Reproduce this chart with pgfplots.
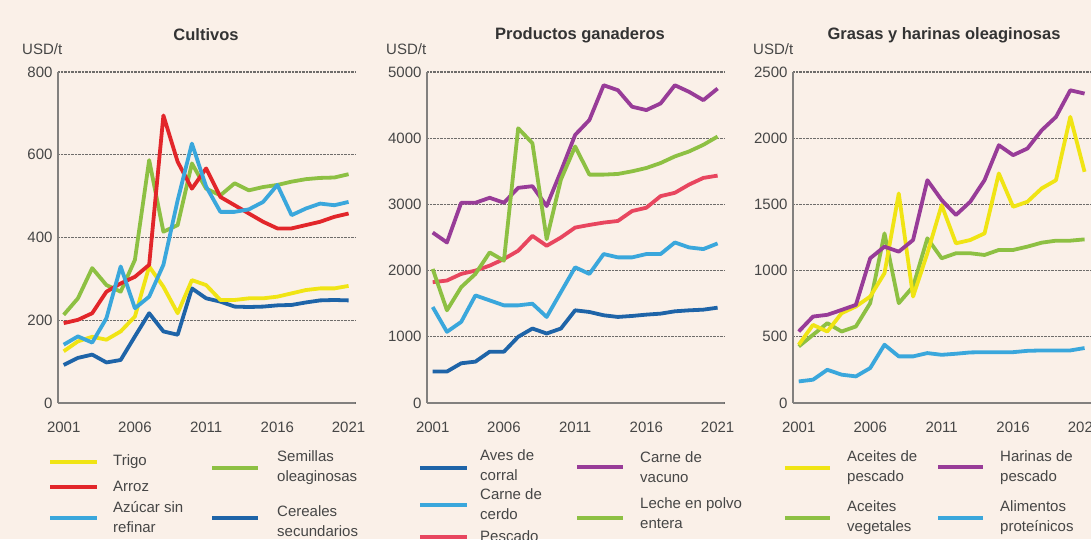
\documentclass[border=0pt]{standalone}
\usepackage{pgfplots}
\pgfplotsset{compat=1.18}
\usepackage{pgfplotstable}
\usepackage{fontspec}
\setmainfont{Liberation Sans}

\definecolor{bg}{RGB}{250,240,232}
\definecolor{cyel}{RGB}{240,228,20}
\definecolor{cred}{RGB}{226,38,42}
\definecolor{ccyan}{RGB}{58,167,220}
\definecolor{cgreen}{RGB}{141,192,67}
\definecolor{cdblue}{RGB}{30,100,168}
\definecolor{cpurple}{RGB}{152,60,152}
\definecolor{cpink}{RGB}{232,70,95}
\definecolor{axisgray}{RGB}{130,128,126}
\definecolor{gridgray}{RGB}{110,108,106}
\definecolor{txtgray}{RGB}{70,70,70}

\pgfplotstableread{
year trigo arroz azucar semillas cereales
2001 125 193 141 213 92
2002 149 201 161 253 109
2003 160 217 146 326 117
2004 153 269 205 285 98
2005 173 289 330 269 104
2006 209 305 229 346 161
2007 330 334 257 587 217
2008 281 695 334 414 173
2009 217 583 490 430 165
2010 297 518 627 579 277
2011 285 567 523 518 253
2012 249 498 462 502 245
2013 249 478 462 531 233
2014 253 458 468 514 232
2015 253 438 486 522 233
2016 257 422 527 527 236
2017 265 422 454 535 237
2018 273 430 470 541 243
2019 277 438 482 544 248
2020 277 450 478 545 249
2021 283 458 486 553 248
}\cultivos

\pgfplotstableread{
year aves cerdo pescado vacuno leche
2001 475 1450 1825 2575 2025
2002 475 1075 1850 2425 1400
2003 600 1225 1950 3025 1750
2004 625 1625 2000 3025 1950
2005 775 1550 2075 3100 2275
2006 775 1475 2175 3025 2150
2007 1000 1475 2300 3250 4150
2008 1125 1500 2525 3275 3925
2009 1050 1300 2375 2975 2475
2010 1125 1675 2500 3500 3375
2011 1400 2050 2650 4050 3875
2012 1375 1950 2690 4275 3450
2013 1325 2250 2725 4800 3450
2014 1300 2200 2750 4725 3460
2015 1315 2200 2900 4475 3500
2016 1335 2250 2950 4425 3550
2017 1350 2250 3125 4525 3625
2018 1385 2425 3175 4800 3725
2019 1400 2350 3300 4700 3800
2020 1410 2325 3400 4575 3900
2021 1440 2410 3435 4750 4025
}\ganaderos

\pgfplotstableread{
year aceitesp harinas aceitesv alimentos
2001 440 540 427 163
2002 590 653 515 176
2003 540 666 603 251
2004 678 703 540 214
2005 729 741 578 201
2006 804 1093 754 264
2007 980 1181 1281 440
2008 1583 1143 754 352
2009 804 1231 879 352
2010 1131 1683 1244 377
2011 1495 1533 1093 364
2012 1206 1420 1131 372
2013 1231 1520 1131 382
2014 1281 1683 1118 384
2015 1734 1947 1156 384
2016 1482 1872 1156 384
2017 1520 1922 1181 394
2018 1621 2060 1211 397
2019 1683 2161 1226 397
2020 2161 2362 1226 397
2021 1746 2337 1236 415
}\grasas

\pgfplotsset{panel/.style={
  scale only axis, width=297pt, height=331pt, anchor=south west,
  xmin=2000.6, xmax=2021.45, ymin=0,
  axis x line*=bottom, axis y line*=left,
  axis line style={draw=axisgray, line width=1.6pt, -},
  xtick={2001,2006,2011,2016,2021},
  major tick length=0pt,
  ymajorgrids, grid style={densely dotted, draw=gridgray, line width=1.1pt},
  ticklabel style={font=\fontsize{15}{18}\selectfont, text=txtgray},
  /pgf/number format/assume math mode=true,
  /pgf/number format/1000 sep={},
  xticklabel style={yshift=-15pt},
  yticklabel style={xshift=-2pt},
  every axis plot/.append style={line width=3.8pt, line join=round, no marks},
}}

\begin{document}
\begin{tikzpicture}
\useasboundingbox (0pt,0pt) rectangle (1091pt,539pt);
\clip (0pt,0pt) rectangle (1091pt,539pt);
\fill[bg] (0pt,0pt) rectangle (1091pt,539pt);

% Panel 1
\begin{axis}[panel, at={(58pt,136pt)}, ymax=800, ytick={0,200,400,600,800}]
\addplot[cdblue] table[x=year,y=cereales] {\cultivos};
\addplot[cyel] table[x=year,y=trigo] {\cultivos};
\addplot[cgreen] table[x=year,y=semillas] {\cultivos};
\addplot[cred] table[x=year,y=arroz] {\cultivos};
\addplot[ccyan] table[x=year,y=azucar] {\cultivos};
\end{axis}

% Panel 2
\begin{axis}[panel, at={(427pt,136pt)}, ymax=5000, ytick={0,1000,2000,3000,4000,5000}]
\addplot[cdblue] table[x=year,y=aves] {\ganaderos};
\addplot[ccyan] table[x=year,y=cerdo] {\ganaderos};
\addplot[cpink] table[x=year,y=pescado] {\ganaderos};
\addplot[cpurple] table[x=year,y=vacuno] {\ganaderos};
\addplot[cgreen] table[x=year,y=leche] {\ganaderos};
\end{axis}

% Panel 3
\begin{axis}[panel, at={(793pt,136pt)}, width=298pt, ymax=2500, ytick={0,500,1000,1500,2000,2500}]
\addplot[ccyan] table[x=year,y=alimentos] {\grasas};
\addplot[cgreen] table[x=year,y=aceitesv] {\grasas};
\addplot[cyel] table[x=year,y=aceitesp] {\grasas};
\addplot[cpurple] table[x=year,y=harinas] {\grasas};
\end{axis}

% Titles
\begin{scope}[every node/.style={font=\bfseries\fontsize{16.5}{19}\selectfont, text=black!80}]
\node at (206pt,504pt) {Cultivos};
\node at (580pt,504pt) {Productos ganaderos};
\node at (944pt,504pt) {Grasas y harinas oleaginosas};
\end{scope}

% Units
\begin{scope}[every node/.style={font=\fontsize{15}{18}\selectfont, text=txtgray, anchor=base west, inner sep=0pt}]
\node at (22pt,484pt) {USD/t};
\node at (386pt,484pt) {USD/t};
\node at (753pt,484pt) {USD/t};
\end{scope}

% Legends
\begin{scope}[every node/.style={font=\fontsize{15}{20}\selectfont, text=txtgray, anchor=west, align=left, inner sep=0pt}, lg/.style={line width=4.5pt}]
\draw[lg, cyel] (50pt,77pt) -- (97pt,77pt);   \node at (113pt,77pt) {Trigo};
\draw[lg, cred] (50pt,52pt) -- (97pt,52pt);   \node at (113pt,53pt) {Arroz};
\draw[lg, ccyan] (50pt,21pt) -- (97pt,21pt);  \node at (113pt,22pt) {Azúcar sin\\refinar};
\draw[lg, cgreen] (212pt,71pt) -- (258pt,71pt); \node at (277pt,71pt) {Semillas\\oleaginosas};
\draw[lg, cdblue] (212pt,21pt) -- (258pt,21pt); \node at (277pt,18pt) {Cereales\\secundarios};

\draw[lg, cdblue] (420pt,71pt) -- (467pt,71pt); \node at (480pt,74pt) {Aves de\\corral};
\draw[lg, ccyan] (420pt,34pt) -- (467pt,34pt); \node at (480pt,35pt) {Carne de\\cerdo};
\draw[lg, cpink] (420pt,2pt) -- (467pt,2pt); \node at (480pt,3pt) {Pescado};
\draw[lg, cpurple] (577pt,72pt) -- (623pt,72pt); \node at (640pt,72pt) {Carne de\\vacuno};
\draw[lg, cgreen] (577pt,21pt) -- (623pt,21pt); \node at (640pt,26pt) {Leche en polvo\\entera};

\draw[lg, cyel] (785pt,71pt) -- (830pt,71pt); \node at (847pt,71pt) {Aceites de\\pescado};
\draw[lg, cgreen] (785pt,21pt) -- (830pt,21pt); \node at (847pt,21pt) {Aceites\\vegetales};
\draw[lg, cpurple] (938pt,72pt) -- (983pt,72pt); \node at (1000pt,71pt) {Harinas de\\pescado};
\draw[lg, ccyan] (938pt,21pt) -- (983pt,21pt); \node at (1000pt,21pt) {Alimentos\\proteínicos};
\end{scope}
\end{tikzpicture}
\end{document}
